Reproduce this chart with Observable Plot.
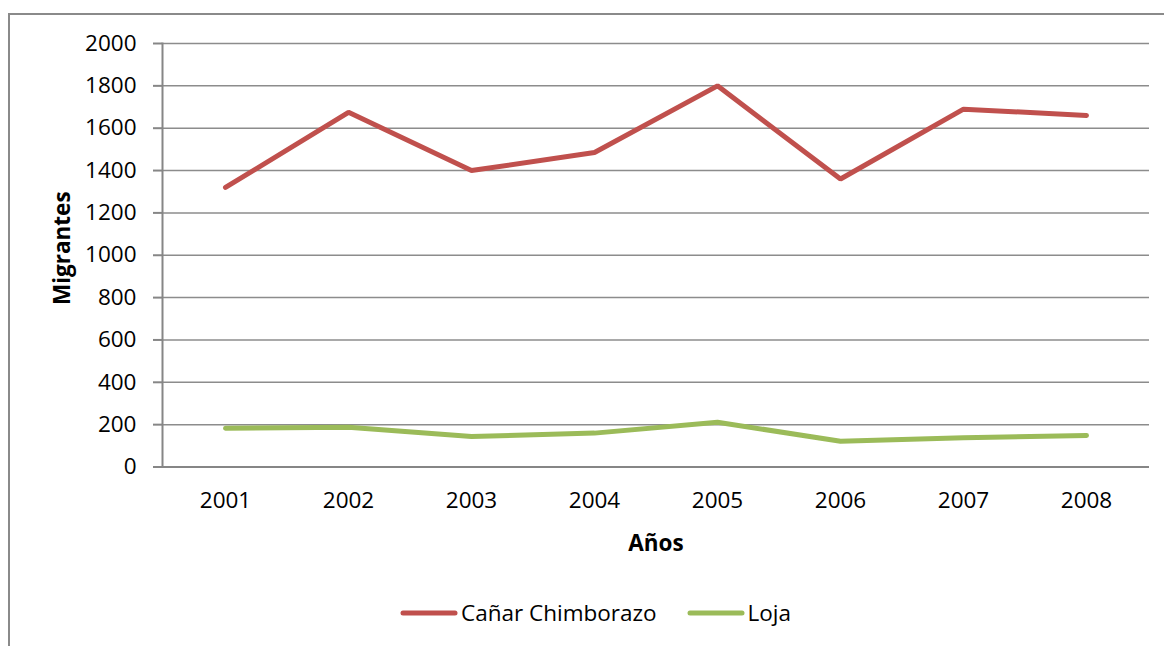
<!DOCTYPE html>
<html><head><meta charset="utf-8">
<script src="https://cdn.jsdelivr.net/npm/d3@7"></script>
<script src="https://cdn.jsdelivr.net/npm/@observablehq/plot@0.6"></script>
<style>
body{margin:0;width:1164px;height:646px;overflow:hidden;background:#fff;font-family:"Open Sans",sans-serif;position:relative}
#frame{position:absolute;left:8px;top:13px;width:1170px;height:660px;border:2px solid #8a8a8a;box-sizing:border-box}
#chart{position:absolute;left:0;top:0}
#legend{position:absolute;top:597px;left:400px;display:flex;align-items:center;font-size:22.5px;color:#000;white-space:nowrap}
.item{display:flex;align-items:center;margin-right:30px}
.item svg{margin-right:3px}
</style>
</head><body>
<div id="frame"></div>
<div id="chart"></div>
<div id="legend"></div>
<script>
const years = ["2001","2002","2003","2004","2005","2006","2007","2008"];
const canar = [1320,1675,1400,1485,1800,1360,1690,1660];
const loja = [183,188,144,160,211,122,138,149];
const seriesNames = ["Cañar Chimborazo","Loja"];
const seriesColors = ["#C0504D","#9BBB59"];
const yTicks = [0,200,400,600,800,1000,1200,1400,1600,1800,2000];

const data = years.flatMap((yr,i)=>[
  {year:yr, value:canar[i], series:seriesNames[0]},
  {year:yr, value:loja[i], series:seriesNames[1]}
]);

const FS = 22.5;
const chart = Plot.plot({
  width:1164, height:560,
  marginLeft:162, marginRight:15, marginTop:43, marginBottom:93.5,
  style:{fontFamily:"Open Sans", fontSize:FS+"px", color:"#000", background:"transparent"},
  x:{type:"point", domain:years, padding:0.5},
  y:{domain:[0,2000]},
  color:{domain:seriesNames, range:seriesColors},
  marks:[
    Plot.ruleY(yTicks, {stroke:"#8c8c8c", strokeWidth:1.5}),
    Plot.ruleY([0], {stroke:"#868686", strokeWidth:2}),
    Plot.frame({anchor:"left", stroke:"#868686", strokeWidth:2}),
    Plot.axisY(yTicks, {tickSize:9, tickPadding:17, tickFormat:d=>String(d), stroke:"#868686", strokeWidth:2, fill:"#000", fontSize:FS, label:null}),
    Plot.axisX({tickSize:0, tickPadding:25, fill:"#000", fontSize:FS, label:null}),
    Plot.line(data, {x:"year", y:"value", z:"series", stroke:"series", strokeWidth:5, strokeLinecap:"round", strokeLinejoin:"miter"}),
    Plot.text(["Migrantes"], {frameAnchor:"left", textAnchor:"middle", dx:-100, dy:-7, rotate:-90, fontWeight:"bold", fontSize:FS, fill:"#000"}),
    Plot.text(["Años"], {frameAnchor:"bottom", dy:76.5, fontWeight:"bold", fontSize:FS, fill:"#000", lineAnchor:"middle"})
  ]
});
document.getElementById("chart").appendChild(chart);

const legend = document.getElementById("legend");
seriesNames.forEach((name,i)=>{
  const item = document.createElement("div");
  item.className = "item";
  item.innerHTML = `<svg width="58" height="10"><line x1="3" y1="5" x2="55" y2="5" stroke="${seriesColors[i]}" stroke-width="5" stroke-linecap="round"/></svg><span>${name}</span>`;
  legend.appendChild(item);
});
</script>
</body></html>
